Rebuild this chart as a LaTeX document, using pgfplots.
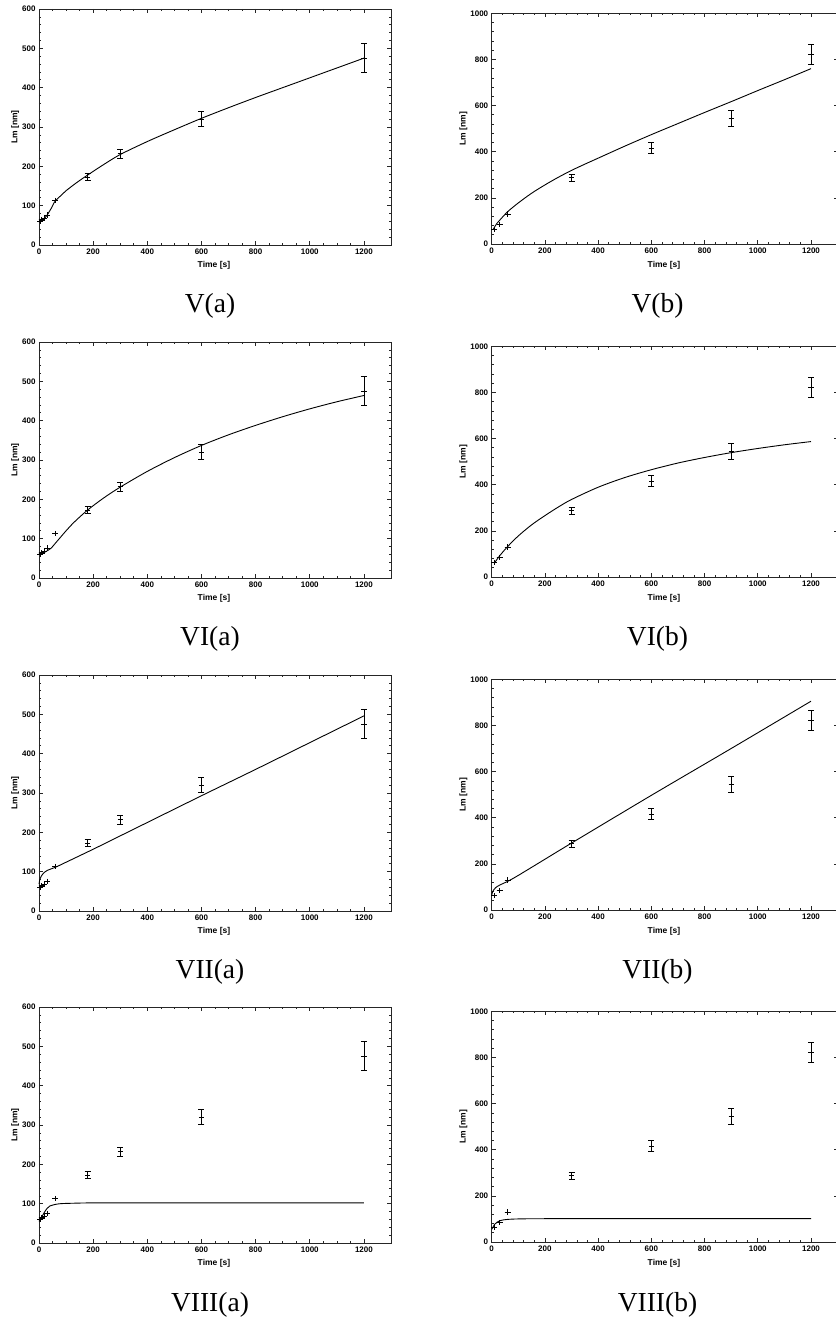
\documentclass[border=0pt]{standalone}
\usepackage{fontspec}
\setmainfont{Liberation Serif}
\newfontfamily\arial{Liberation Sans}
\usepackage{pgfplots}
\usepackage{pgfplotstable}
\pgfplotsset{compat=1.18}

% measured points: t [s], Lm [nm], error
\pgfplotstableread{
t y e
5 60 0
10 64 0
20 68 0
30 76 0
60 113 0
180 172 9
300 232 11
600 320 19
1200 475 37
}\dataA
\pgfplotstableread{
t y e
10 62 0
30 85 0
60 130 0
300 287 15
600 416 24
900 543 35
1200 822 42
}\dataB

\newcommand\tickfont{\arial\bfseries\fontsize{8}{8}\selectfont}
\newcommand\labfont{\arial\bfseries\fontsize{8.5}{9}\selectfont}

\pgfplotsset{
  base/.style={
    scale only axis, xmin=0, xmax=1300,
    xtick={0,200,...,1200},
    tick align=inside, major tick length=4pt, minor tick length=2pt,
    axis line style={line width=0.8pt, black!85},
    every tick/.style={black!85, line width=0.6pt},
    xticklabel style={font=\tickfont},
    yticklabel style={font=\tickfont},
    /pgf/number format/assume math mode=true,
    /pgf/number format/1000 sep={},
    scaled ticks=false,
    xlabel={\labfont Time [s]}, ylabel={\labfont Lm [nm]},
    clip=false,
  },
  lpan/.style={base, width=352pt, height=236pt,
    ymin=0, ymax=600, ytick={0,100,...,600},
    minor x tick num=3, minor y tick num=4,
    every axis y label/.style={at={(axis description cs:-0.068,0.5)}, anchor=center, rotate=90, font=\labfont},
    every axis x label/.style={at={(axis description cs:0.497,-0.087)}, anchor=center, font=\labfont},
  },
  rpan/.style={base, width=345.9pt, height=230.7pt,
    ymin=0, ymax=1000, ytick={0,200,...,1000},
    minor x tick num=4, minor y tick num=4,
    every axis y label/.style={at={(axis description cs:-0.082,0.5)}, anchor=center, rotate=90, font=\labfont},
    every axis x label/.style={at={(axis description cs:0.498,-0.091)}, anchor=center, font=\labfont},
  },
  fit/.style={no marks, line width=0.9pt, black, smooth, tension=0.5},
  meas/.style={only marks, mark=+, mark size=2.6pt, black, line width=0.6pt,
    error bars/.cd, y dir=both, y explicit,
    error bar style={line width=0.8pt, black},
    error mark options={rotate=90, mark size=3pt, line width=0.8pt}},
}

\begin{document}
\begin{tikzpicture}
\tikzset{panelcap/.style={font=\fontsize{27.5}{30}\selectfont, anchor=base}}

% ---- V(a)
\begin{axis}[lpan, at={(39pt,1077pt)}, anchor=south west]
\addplot[meas] table[x=t, y=y, y error=e] {\dataA};
\addplot[fit] coordinates {(0,58) (10,63) (20,68) (30,76) (45,93) (60,112) (80,125) (100,138) (140,159) (180,178) (240,205) (300,230) (400,263) (500,293) (600,322) (700,349) (800,375) (900,400) (1000,425) (1100,450) (1200,475)};
\end{axis}
% ---- V(b)
\begin{axis}[rpan, at={(491.7pt,1078pt)}, anchor=south west]
\addplot[meas] table[x=t, y=y, y error=e] {\dataB};
\addplot[fit] coordinates {(5,62) (10,72) (20,90) (30,103) (60,140) (100,178) (150,220) (200,256) (250,289) (300,319) (350,346) (400,372) (500,424) (600,474) (700,522) (800,570) (900,617) (1000,665) (1100,712) (1200,760)};
\end{axis}

% ---- VI(a)
\begin{axis}[lpan, at={(39pt,744pt)}, anchor=south west]
\addplot[meas] table[x=t, y=y, y error=e] {\dataA};
\addplot[fit] coordinates {(0,62) (10,63) (20,65) (30,69) (45,76) (60,88) (80,104) (100,120) (130,142) (180,173) (240,204) (300,231) (400,271) (500,306) (600,337) (700,364) (800,388) (900,410) (1000,430) (1100,448) (1200,464)};
\end{axis}
% ---- VI(b)
\begin{axis}[rpan, at={(491.7pt,745pt)}, anchor=south west]
\addplot[meas] table[x=t, y=y, y error=e] {\dataB};
\addplot[fit] coordinates {(10,60) (30,92) (60,132) (100,178) (150,226) (200,266) (250,303) (300,336) (400,389) (500,431) (600,465) (700,494) (800,518) (900,539) (1000,557) (1100,573) (1200,587)};
\end{axis}

% ---- VII(a)
\begin{axis}[lpan, at={(39pt,411pt)}, anchor=south west]
\addplot[meas] table[x=t, y=y, y error=e] {\dataA};
\addplot[fit] coordinates {(0,68) (3,80) (8,88) (15,95) (30,103) (60,111) (100,124) (200,157) (300,191) (400,225) (600,293) (800,360) (1000,428) (1200,496)};
\end{axis}
% ---- VII(b)
\begin{axis}[rpan, at={(491.7pt,412pt)}, anchor=south west]
\addplot[meas] table[x=t, y=y, y error=e] {\dataB};
\addplot[fit] coordinates {(0,62) (3,78) (8,88) (15,97) (30,108) (60,124) (100,150) (200,220) (300,290) (600,497) (900,700) (1200,905)};
\end{axis}

% ---- VIII(a)
\begin{axis}[lpan, at={(39pt,79pt)}, anchor=south west]
\addplot[meas] table[x=t, y=y, y error=e] {\dataA};
\addplot[fit] coordinates {(0,55) (5,60) (10,66) (20,78) (30,88) (40,94) (60,98) (80,100) (120,101) (200,102) (400,102) (800,102) (1200,102)};
\end{axis}
% ---- VIII(b)
\begin{axis}[rpan, at={(491.7pt,80pt)}, anchor=south west]
\addplot[meas] table[x=t, y=y, y error=e] {\dataB};
\addplot[fit] coordinates {(0,55) (5,65) (10,75) (20,86) (30,92) (45,96) (60,98) (100,100) (200,101) (600,101) (1200,101)};
\end{axis}

% panel captions
\node[panelcap] at (210pt,1009.5pt) {V(a)};
\node[panelcap] at (657.5pt,1009.5pt) {V(b)};
\node[panelcap] at (210pt,676pt) {VI(a)};
\node[panelcap] at (657.5pt,676pt) {VI(b)};
\node[panelcap] at (210pt,343.5pt) {VII(a)};
\node[panelcap] at (657.5pt,343.5pt) {VII(b)};
\node[panelcap] at (210pt,10.5pt) {VIII(a)};
\node[panelcap] at (657.5pt,10.5pt) {VIII(b)};

\pgfresetboundingbox
\useasboundingbox (0pt,0pt) rectangle (835pt,1322pt);
\end{tikzpicture}
\end{document}
